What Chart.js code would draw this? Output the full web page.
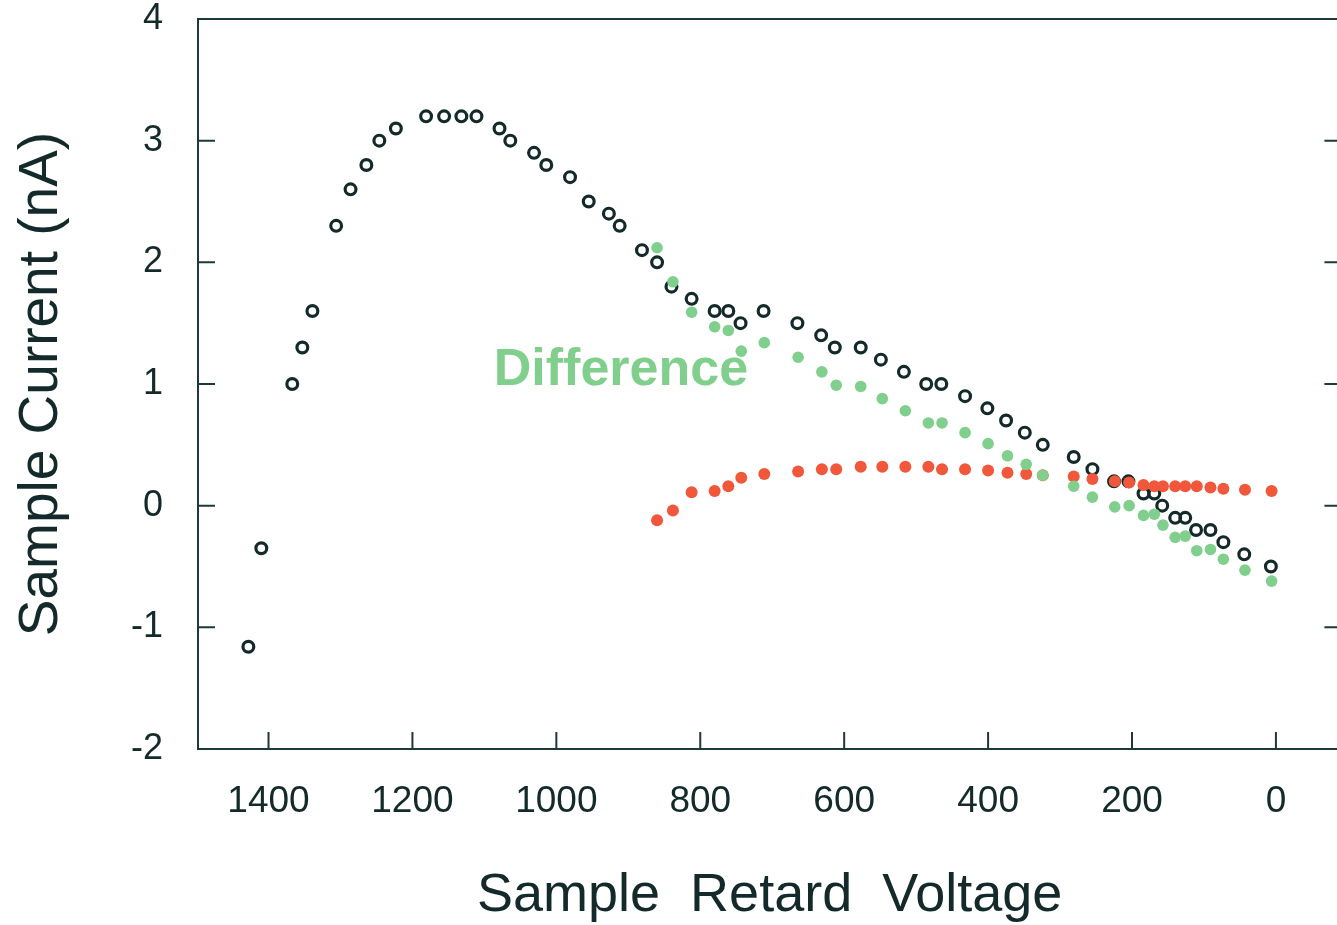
<!DOCTYPE html>
<html>
<head>
<meta charset="utf-8">
<script src="https://cdn.jsdelivr.net/npm/chart.js@4.4.1/dist/chart.umd.min.js"></script>
<style>
  html, body { margin: 0; padding: 0; background: #fff; overflow: hidden; }
  #wrap { width: 1350px; height: 925px; }
</style>
</head>
<body>
<div id="wrap"><canvas id="chart" width="1350" height="925"></canvas></div>
<script>
// measured sample current (open circles)
const totalVolts = [1428, 1410, 1367, 1353, 1339, 1306, 1286, 1264, 1246, 1223, 1181, 1156, 1132, 1111,
  1079, 1064, 1031, 1014, 981, 955, 927, 912, 881, 860, 840, 812, 780, 761, 744, 712, 665, 632, 613,
  577, 549, 517, 486, 465, 432, 401, 375, 349, 324, 281, 255, 225, 205, 184, 169, 158, 140, 126, 111,
  91, 73, 44, 7];
const totalCurrent = [-1.16, -0.35, 1.0, 1.3, 1.6, 2.3, 2.6, 2.8, 3.0, 3.1, 3.2, 3.2, 3.2, 3.2,
  3.1, 3.0, 2.9, 2.8, 2.7, 2.5, 2.4, 2.3, 2.1, 2.0, 1.8, 1.7, 1.6, 1.6, 1.5, 1.6, 1.5, 1.4, 1.3,
  1.3, 1.2, 1.1, 1.0, 1.0, 0.9, 0.8, 0.7, 0.6, 0.5, 0.4, 0.3, 0.2, 0.2, 0.1, 0.1, 0.0, -0.1, -0.1, -0.2,
  -0.2, -0.3, -0.4, -0.5];

// difference (green) and background (red) share the same voltages
const diffVolts = [860, 838, 812, 780, 761, 743, 711, 664, 631, 611, 577, 547, 515, 483, 464, 432, 400,
  373, 347, 324, 281, 255, 224, 204, 184, 169, 157, 140, 126, 110, 91, 73, 43, 6];
const diffCurrent = [2.12, 1.84, 1.59, 1.47, 1.44, 1.27, 1.34, 1.22, 1.10, 0.99, 0.98, 0.88, 0.78, 0.68, 0.68, 0.60, 0.51,
  0.41, 0.34, 0.25, 0.16, 0.07, -0.01, 0.0, -0.08, -0.07, -0.16, -0.26, -0.25, -0.37, -0.36, -0.44, -0.53, -0.62];
const bgCurrent = [-0.12, -0.04, 0.11, 0.12, 0.16, 0.23, 0.26, 0.28, 0.30, 0.30, 0.32, 0.32, 0.32, 0.32, 0.30, 0.30, 0.29,
  0.27, 0.26, 0.25, 0.24, 0.22, 0.20, 0.19, 0.17, 0.16, 0.16, 0.16, 0.16, 0.16, 0.15, 0.14, 0.13, 0.12];

const xTickValues = [1400, 1200, 1000, 800, 600, 400, 200, 0];
const yTickValues = [-2, -1, 0, 1, 2, 3, 4];

const FONT = '"Liberation Sans", Arial, Helvetica, sans-serif';
const INK = '#142a2a';
const AXIS = '#1d3939';

function pts(xs, ys) {
  return xs.map((x, i) => ({ x: x, y: ys[i] }));
}

// frame, inward ticks and the "Difference" note
const framePlugin = {
  id: 'frame',
  afterDatasetsDraw(chart) {
    const { ctx, chartArea: a, scales } = chart;
    const tl = 17;
    ctx.save();
    ctx.strokeStyle = AXIS;
    ctx.lineWidth = 2;
    ctx.beginPath();
    ctx.moveTo(a.right, a.top); ctx.lineTo(a.left, a.top);
    ctx.lineTo(a.left, a.bottom); ctx.lineTo(a.right, a.bottom);
    ctx.lineTo(a.right, a.top);
    xTickValues.forEach(v => {
      const px = scales.x.getPixelForValue(v);
      ctx.moveTo(px, a.bottom); ctx.lineTo(px, a.bottom - tl);
    });
    yTickValues.forEach(v => {
      const py = scales.y.getPixelForValue(v);
      ctx.moveTo(a.left, py); ctx.lineTo(a.left + tl, py);
      ctx.moveTo(a.right, py); ctx.lineTo(a.right - tl, py);
    });
    ctx.stroke();

    ctx.fillStyle = '#80cf8c';
    ctx.font = 'bold 52px ' + FONT;
    ctx.textAlign = 'left';
    ctx.textBaseline = 'alphabetic';
    ctx.fillText('Difference', scales.x.getPixelForValue(1087), scales.y.getPixelForValue(0.99));
    ctx.restore();
  }
};

new Chart(document.getElementById('chart').getContext('2d'), {
  type: 'scatter',
  data: {
    datasets: [
      {
        label: 'Difference',
        data: pts(diffVolts, diffCurrent),
        pointRadius: 5.8,
        pointBackgroundColor: '#80cf8c',
        pointBorderWidth: 0,
        order: 0
      },
      {
        label: 'Background',
        data: pts(diffVolts, bgCurrent),
        pointRadius: 6,
        pointBackgroundColor: '#f0573b',
        pointBorderWidth: 0,
        order: 1
      },
      {
        label: 'Sample Current',
        data: pts(totalVolts, totalCurrent),
        pointRadius: 5.4,
        pointBackgroundColor: 'rgba(255,255,255,0)',
        pointBorderColor: INK,
        pointBorderWidth: 3.2,
        order: 2
      }
    ]
  },
  options: {
    responsive: false,
    animation: false,
    devicePixelRatio: 1,
    layout: { padding: { top: 19, right: 3, left: 0, bottom: 0 } },
    plugins: {
      legend: { display: false },
      tooltip: { enabled: false }
    },
    scales: {
      x: {
        type: 'linear',
        reverse: true,
        min: -91,
        max: 1498,
        afterFit: s => { s.height = 176; s.paddingLeft = 0; s.paddingRight = 0; },
        afterBuildTicks: s => { s.ticks = xTickValues.map(v => ({ value: v })); },
        grid: { display: false, drawTicks: false },
        border: { display: false },
        ticks: {
          padding: 34,
          color: INK,
          font: { family: FONT, size: 37, lineHeight: 1 },
          maxRotation: 0,
          callback: v => String(v)
        },
        title: {
          display: true,
          text: 'Sample  Retard  Voltage',
          color: INK,
          font: { family: FONT, size: 54, lineHeight: 1 },
          padding: { top: 0, bottom: 2 }
        }
      },
      y: {
        type: 'linear',
        min: -2,
        max: 4,
        afterFit: s => { s.width = 198; s.paddingTop = 0; s.paddingBottom = 0; },
        afterBuildTicks: s => { s.ticks = yTickValues.map(v => ({ value: v })); },
        grid: { display: false, drawTicks: false },
        border: { display: false },
        ticks: {
          padding: 35,
          color: INK,
          font: { family: FONT, size: 36, lineHeight: 1 },
          callback: v => String(v)
        },
        title: {
          display: true,
          text: 'Sample Current (nA)',
          color: INK,
          font: { family: FONT, size: 55, lineHeight: 1 },
          padding: { top: 14, bottom: 0 }
        }
      }
    }
  },
  plugins: [framePlugin]
});
</script>
</body>
</html>
